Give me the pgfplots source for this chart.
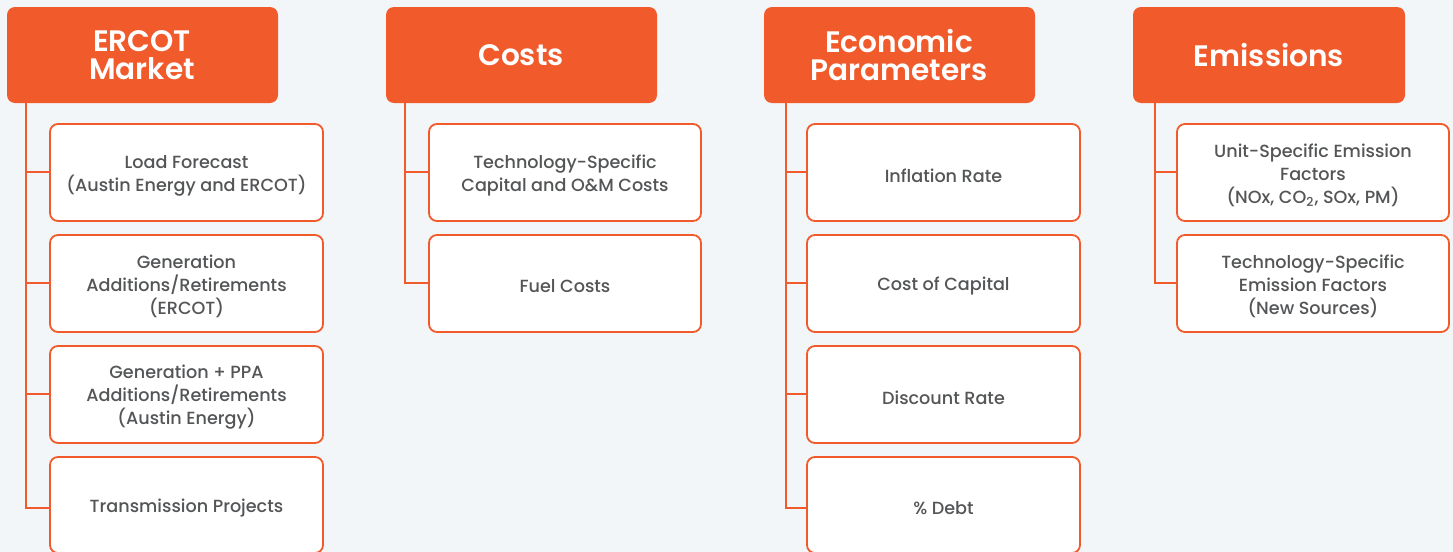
\documentclass[border=0pt]{standalone}
\usepackage{pgfplots}
\pgfplotsset{compat=1.18}
\usepackage{fontspec}
\setmainfont{Poppins}
\IfFontExistsTF{Poppins Medium}{\newfontfamily\medfont{Poppins Medium}}{\newfontfamily\medfont[FakeBold=0.4]{Poppins}}
\IfFontExistsTF{Poppins SemiBold}{\newfontfamily\hdrfont{Poppins SemiBold}}{\newfontfamily\hdrfont{Poppins Bold}}
\definecolor{orng}{HTML}{F15A2B}
\definecolor{bg}{HTML}{F3F6F9}
\definecolor{txt}{HTML}{545557}

% header box: x1, x2, xc, text
\newcommand{\hdr}[4]{%
  \draw[fill=orng,draw=none,rounded corners=4pt] (axis cs:#1,7) rectangle (axis cs:#2,103);
  \node[text=white,font=\hdrfont\fontsize{14.8}{14}\selectfont,align=center] at (axis cs:#3,55) {#4};}
% child box: x1, x2, y1, y2, text
\newcommand{\kid}[5]{%
  \draw[fill=white,draw=orng,line width=0.9pt,rounded corners=4pt] (axis cs:#1,#3) rectangle (axis cs:#2,#4);
  \node[text=txt,font=\medfont\fontsize{8.8}{11.5}\selectfont,align=center] at (axis cs:{#1/2+#2/2},{#3/2+#4/2+3}) {#5};}
% tree: x, x of child, y of last branch
\newcommand{\tree}[3]{%
  \draw[orng,line width=0.9pt] (axis cs:#1,103) -- (axis cs:#1,#3) -- (axis cs:#2,#3);}
\newcommand{\branch}[3]{%
  \draw[orng,line width=0.9pt] (axis cs:#1,#3) -- (axis cs:#2,#3);}

\begin{document}
\begin{tikzpicture}
\begin{axis}[
  scale only axis,
  width=726.5pt, height=276pt,
  xmin=0, xmax=1453, ymin=0, ymax=552,
  y dir=reverse,
  hide axis,
  clip=true,
]
  \fill[bg] (axis cs:0,0) rectangle (axis cs:1453,552);

  % trees
  \tree{26}{50}{508}
  \branch{26}{50}{172}\branch{26}{50}{283}\branch{26}{50}{394}
  \tree{405}{429}{283}
  \branch{405}{429}{172}
  \tree{786}{807}{508}
  \branch{786}{807}{172}\branch{786}{807}{283}\branch{786}{807}{394}
  \tree{1155}{1177}{283}
  \branch{1155}{1177}{172}

  % headers
  \hdr{7}{278}{142}{ERCOT\\Market}
  \hdr{386}{657}{521}{Costs}
  \hdr{764}{1035}{899}{Economic\\Parameters}
  \hdr{1133}{1405}{1269}{Emissions}

  % ERCOT market
  \kid{50}{323}{124}{221}{Load Forecast\\(Austin Energy and ERCOT)}
  \kid{50}{323}{235}{332}{Generation\\Additions/Retirements\\(ERCOT)}
  \kid{50}{323}{346}{443}{Generation + PPA\\Additions/Retirements\\(Austin Energy)}
  \kid{50}{323}{457}{553}{Transmission Projects}
  % costs
  \kid{429}{701}{124}{221}{Technology-Specific\\Capital and O\&M Costs}
  \kid{429}{701}{235}{332}{Fuel Costs}
  % economic parameters
  \kid{807}{1080}{124}{221}{Inflation Rate}
  \kid{807}{1080}{235}{332}{Cost of Capital}
  \kid{807}{1080}{346}{443}{Discount Rate}
  \kid{807}{1080}{457}{553}{\% Debt}
  % emissions
  \kid{1177}{1449}{124}{221}{Unit-Specific Emission\\Factors\\(NOx, CO\textsubscript{2}, SOx, PM)}
  \kid{1177}{1449}{235}{332}{Technology-Specific\\Emission Factors\\(New Sources)}
\end{axis}
\pgfresetboundingbox
\path (current axis.south west) rectangle (current axis.north east);
\end{tikzpicture}
\end{document}
